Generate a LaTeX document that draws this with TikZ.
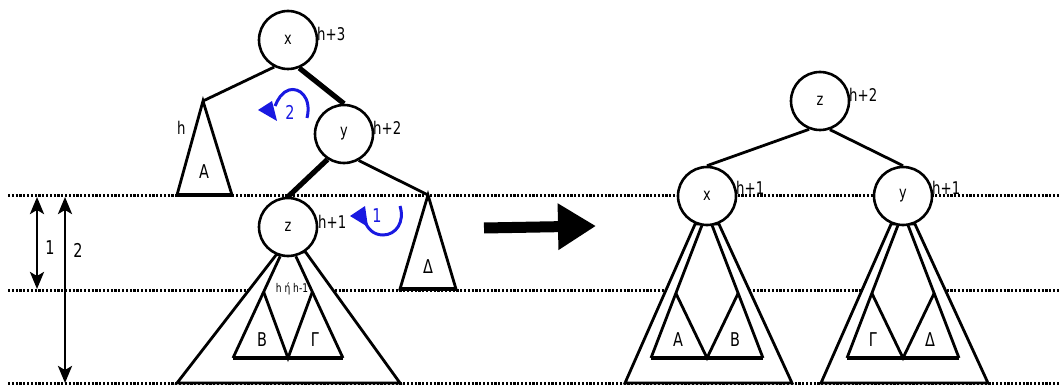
\documentclass[tikz,border=0pt]{standalone}
\usepackage{fontspec}
\setmainfont[FakeStretch=0.76]{DejaVu Sans}
\usetikzlibrary{arrows.meta,calc}
\pgfdeclarelayer{dots}
\pgfdeclarelayer{bg}
\pgfsetlayers{dots,bg,main}
\definecolor{arrblue}{RGB}{25,25,225}
\begin{document}
\begin{tikzpicture}[x=1pt,y=-1pt,
  circ/.style={circle,draw,line width=2.6pt,fill=white,minimum size=58pt,inner sep=0pt,font=\fontsize{17}{19}\selectfont},
  edge/.style={line width=2.8pt},
  thickedge/.style={line width=5.2pt},
  tri/.style={line width=2.8pt,line join=miter},
  basel/.style={line width=4.6pt},
  lbl/.style={anchor=west,inner sep=0pt,font=\fontsize{17.5}{19}\selectfont},
  lt/.style={inner sep=0pt,font=\fontsize{19}{21}\selectfont},
  small/.style={inner sep=0pt,font=\fontsize{12}{13}\selectfont},
  dotline/.style={line width=3pt,dash pattern=on 2.1pt off 1.7pt},
  dim/.style={line width=2.8pt,{Stealth[length=17pt,width=14pt,inset=4pt]}-{Stealth[length=17pt,width=14pt,inset=4pt]}},
  bluearc/.style={line width=3pt,draw=arrblue},
]
\useasboundingbox (0,0) rectangle (1062,390);

% dotted level lines
\begin{pgfonlayer}{dots}
\coordinate (Lt) at (8,196);  \coordinate (Rt) at (1060,196);
\coordinate (Lm) at (8,290);  \coordinate (Rm) at (1060,290);
\coordinate (Lb) at (8,383);  \coordinate (Rb) at (1060,383);
\draw[dotline] (Lt) -- (Rt);
\draw[dotline] (Lm) -- (Rm);
\draw[dotline] (Lb) -- (Rb);
\end{pgfonlayer}

% ---------- left tree ----------
\node[circ] (x1) at (288,40) {x};
\node[circ] (y1) at (344,134) {y};
\node[circ] (z1) at (288,227) {z};
\node[lbl] (hx1) at (317,34) {h+3};
\node[lbl] (hy1) at (373,128) {h+2};
\node[lbl] (hz1) at (318,222) {h+1};
\node[lbl] (hA) at (177,128) {h};

\coordinate (At) at (203,101);
\coordinate (Al) at (177,195);
\coordinate (Ar) at (232,195);
\draw[edge] (x1.243) -- (At);
\draw[thickedge] (x1.292) -- (y1.90);
\draw[thickedge] (y1.237) -- (z1.90);
\coordinate (Dt) at (428,195);
\coordinate (Dl) at (400,289);
\coordinate (Dr) at (456,289);
\draw[edge] (y1.299) -- (Dt);

\draw[tri] (At) -- (Al) -- (Ar) -- cycle;
\draw[basel] (Al) -- (Ar);
\node[lt] (lA1) at (204,172) {A};
\draw[tri] (Dt) -- (Dl) -- (Dr) -- cycle;
\draw[basel] (Dl) -- (Dr);
\node[lt] (lD1) at (428,267) {Δ};

\begin{pgfonlayer}{bg}
\draw[tri,fill=white] (z1.247) -- (177,383) -- (400,383) -- (z1.305) -- cycle;
\end{pgfonlayer}
\coordinate (zb1) at (233,358);
\coordinate (zm1) at (288,358);
\coordinate (zg1) at (343,358);
\draw[tri] (z1.255) -- (zb1);
\draw[tri] (z1.285) -- (zg1);
\coordinate (Bt1) at ($(z1.255)!0.35!(zb1)$);
\coordinate (Gt1) at ($(z1.285)!0.35!(zg1)$);
\draw[tri] (Bt1) -- (zm1) -- (Gt1);
\draw[basel] (zb1) -- (zg1);
\node[lt] (lB1) at (262,340) {B};
\node[lt] (lG1) at (315,340) {Γ};
\node[small] (hh) at (292,289) {h ή h-1};

% blue rotation arrows
\draw[bluearc] (307,118) .. controls (312,97) and (299,87) .. (289,90) .. controls (282,92) and (278,99) .. (275,106);
\fill[arrblue] (258,110) -- (272,101) -- (277,121) -- cycle;
\node[lt,text=arrblue] (r2) at (290,112) {2};
\draw[bluearc] (400,206) .. controls (405,222) and (396,235) .. (383,235) .. controls (373,235) and (367,228) .. (365,221);
\fill[arrblue] (350,216) -- (365,206) -- (368,227) -- cycle;
\node[lt,text=arrblue] (r1) at (377,216) {1};

% height markers
\coordinate (d1a) at (37,197); \coordinate (d1b) at (37,289);
\coordinate (d2a) at (65,197); \coordinate (d2b) at (65,383);
\draw[dim] (d1a) -- (d1b);
\draw[dim] (d2a) -- (d2b);
\node[lt] (n1) at (50,248) {1};
\node[lt] (n2) at (78,250) {2};

% big arrow
\coordinate (ba) at (484,228);
\coordinate (bb) at (596,226);
\draw[line width=11pt,-{Triangle[length=38pt,width=44pt]}] (ba) -- (bb);

% ---------- right tree ----------
\node[circ] (z2) at (820,101) {z};
\node[circ] (x2) at (707,196) {x};
\node[circ] (y2) at (903,196) {y};
\node[lbl] (hz2) at (849,95) {h+2};
\node[lbl] (hx2) at (736,188) {h+1};
\node[lbl] (hy2) at (932,188) {h+1};
\draw[edge] (z2.249) -- (x2.90);
\draw[edge] (z2.289) -- (y2.90);

\begin{pgfonlayer}{bg}
\draw[tri,fill=white] (x2.247) -- (625,383) -- (792,383) -- (x2.293) -- cycle;
\draw[tri,fill=white] (y2.247) -- (821,383) -- (988,383) -- (y2.293) -- cycle;
\end{pgfonlayer}

\coordinate (xa2) at (651,358);
\coordinate (xm2) at (707,358);
\coordinate (xb2) at (763,358);
\draw[tri] (x2.260) -- (xa2);
\draw[tri] (x2.280) -- (xb2);
\coordinate (At2) at ($(x2.260)!0.51!(xa2)$);
\coordinate (Bt2) at ($(x2.280)!0.51!(xb2)$);
\draw[tri] (At2) -- (xm2) -- (Bt2);
\draw[basel] (xa2) -- (xb2);
\node[lt] (lA2) at (678,340) {A};
\node[lt] (lB2) at (735,340) {B};

\coordinate (ya2) at (847,358);
\coordinate (ym2) at (903,358);
\coordinate (yb2) at (959,358);
\draw[tri] (y2.260) -- (ya2);
\draw[tri] (y2.280) -- (yb2);
\coordinate (Gt2) at ($(y2.260)!0.51!(ya2)$);
\coordinate (Dt2) at ($(y2.280)!0.51!(yb2)$);
\draw[tri] (Gt2) -- (ym2) -- (Dt2);
\draw[basel] (ya2) -- (yb2);
\node[lt] (lG2) at (873,340) {Γ};
\node[lt] (lD2) at (930,340) {Δ};
\end{tikzpicture}
\end{document}
